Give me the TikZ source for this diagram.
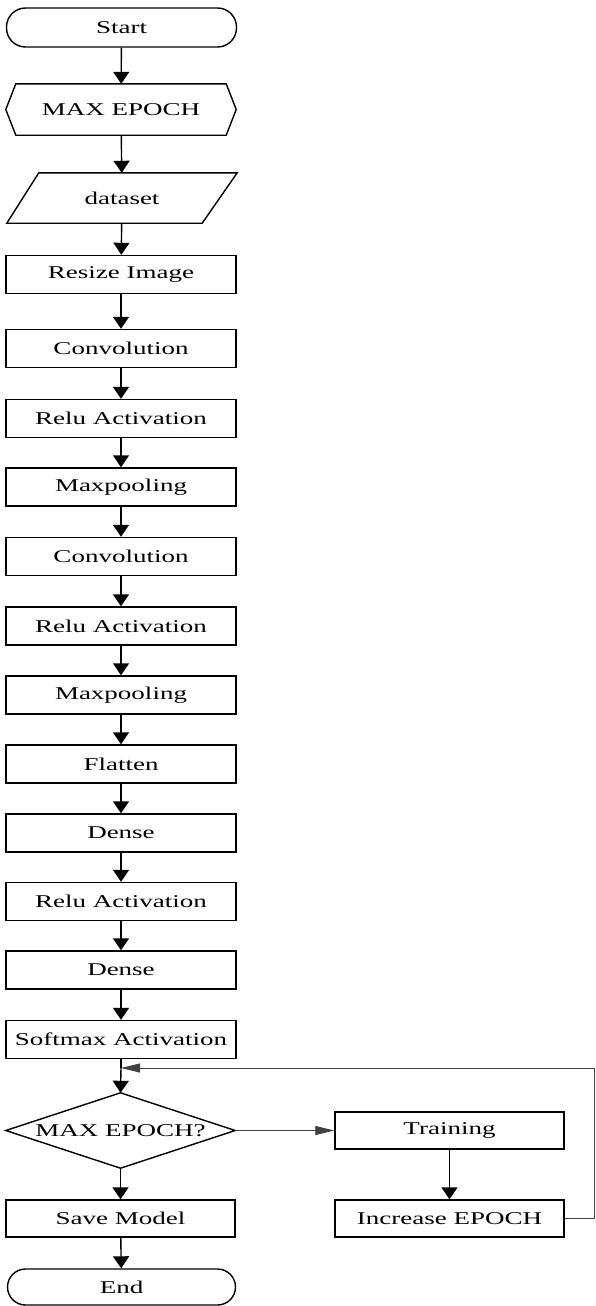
\documentclass[tikz,border=0pt]{standalone}
\usepackage{fontspec}
\setmainfont[FakeStretch=1.5]{Liberation Serif}
\usetikzlibrary{arrows.meta}
\begin{document}
\begin{tikzpicture}[x=1pt,y=-1pt,
  every node/.style={font=\fontsize{18}{21}\selectfont, inner sep=0pt},
  line/.style={line width=1.4pt, draw=black},
  box/.style={draw, line width=1.4pt, minimum width=230pt, minimum height=38pt},
  term/.style={box, rounded corners=19pt},
  ghost/.style={minimum width=230pt, minimum height=50pt},
  varrow/.style={line, -{Triangle[width=16pt,length=12pt]}},
  thin/.style={line width=0.8pt, draw=black!75},
  harrow/.style={thin, -{Triangle[width=9pt,length=19pt]}}
]
\useasboundingbox (0,0) rectangle (595,1306);

% terminals and inputs
\node[term, minimum height=39pt] (start) at (121.5,27.5) {Start};
\node[ghost, minimum height=51pt] (maxep) at (121,109.5) {MAX EPOCH};
\draw[line] ([xshift=10pt]maxep.north west) -- ([xshift=-10pt]maxep.north east)
  -- (maxep.east) -- ([xshift=-10pt]maxep.south east)
  -- ([xshift=10pt]maxep.south west) -- (maxep.west) -- cycle;
\node[ghost, minimum height=50pt] (data) at (122,198) {dataset};
\draw[line] ([xshift=32pt]data.north west) -- ([xshift=0pt]data.north east)
  -- ([xshift=-35pt]data.south east) -- (data.south west) -- cycle;

% network layers
\node[box] (resize) at (121,274.5) {Resize Image};
\node[box] (conva)  at (121,348.5) {Convolution};
\node[box] (relua)  at (121,418.5) {Relu Activation};
\node[box] (poola)  at (121,487)   {Maxpooling};
\node[box] (convb)  at (121,556.5) {Convolution};
\node[box] (relub)  at (121,626)   {Relu Activation};
\node[box] (poolb)  at (121,695)   {Maxpooling};
\node[box] (flat)   at (121,764)   {Flatten};
\node[box] (densea) at (121,833)   {Dense};
\node[box] (reluc)  at (121,901.5) {Relu Activation};
\node[box] (denseb) at (121,970)   {Dense};
\node[box] (soft)   at (121,1039.5) {Softmax Activation};

% training loop
\coordinate (join) at (121,1068);
\node[minimum width=229pt, minimum height=75pt] (check) at (120.5,1130.5) {MAX EPOCH?};
\draw[line] (check.north) -- (check.east) -- (check.south) -- (check.west) -- cycle;
\node[box, minimum width=229pt, minimum height=37pt] (train) at (449.5,1130.5) {Training};
\node[box, minimum width=229pt, minimum height=37pt] (incr)  at (449.5,1218.5) {Increase EPOCH};
\node[box, minimum width=229pt, minimum height=37pt] (save)  at (120.5,1218.5) {Save Model};
\node[term, minimum width=228pt, minimum height=36pt, rounded corners=18pt] (stop) at (121.5,1287) {End};
\coordinate (corner) at (594,1068);

% connectors
\draw[varrow] (start) -- (maxep);
\draw[varrow] (maxep) -- (data);
\draw[varrow] (data) -- (resize);
\draw[varrow] (resize) -- (conva);
\draw[varrow] (conva) -- (relua);
\draw[varrow] (relua) -- (poola);
\draw[varrow] (poola) -- (convb);
\draw[varrow] (convb) -- (relub);
\draw[varrow] (relub) -- (poolb);
\draw[varrow] (poolb) -- (flat);
\draw[varrow] (flat) -- (densea);
\draw[varrow] (densea) -- (reluc);
\draw[varrow] (reluc) -- (denseb);
\draw[varrow] (denseb) -- (soft);
\draw[line] (soft.south) -- (join);
\draw[varrow] (join) -- (check.north);
\draw[harrow] (check.east) -- (train.west);
\draw[varrow] (train) -- (incr);
\draw[thin] (incr.east) -| (corner);
\draw[harrow] (corner) -- (join);
\draw[varrow] (check.south) -- (save);
\draw[varrow] (save) -- (stop);
\end{tikzpicture}
\end{document}
